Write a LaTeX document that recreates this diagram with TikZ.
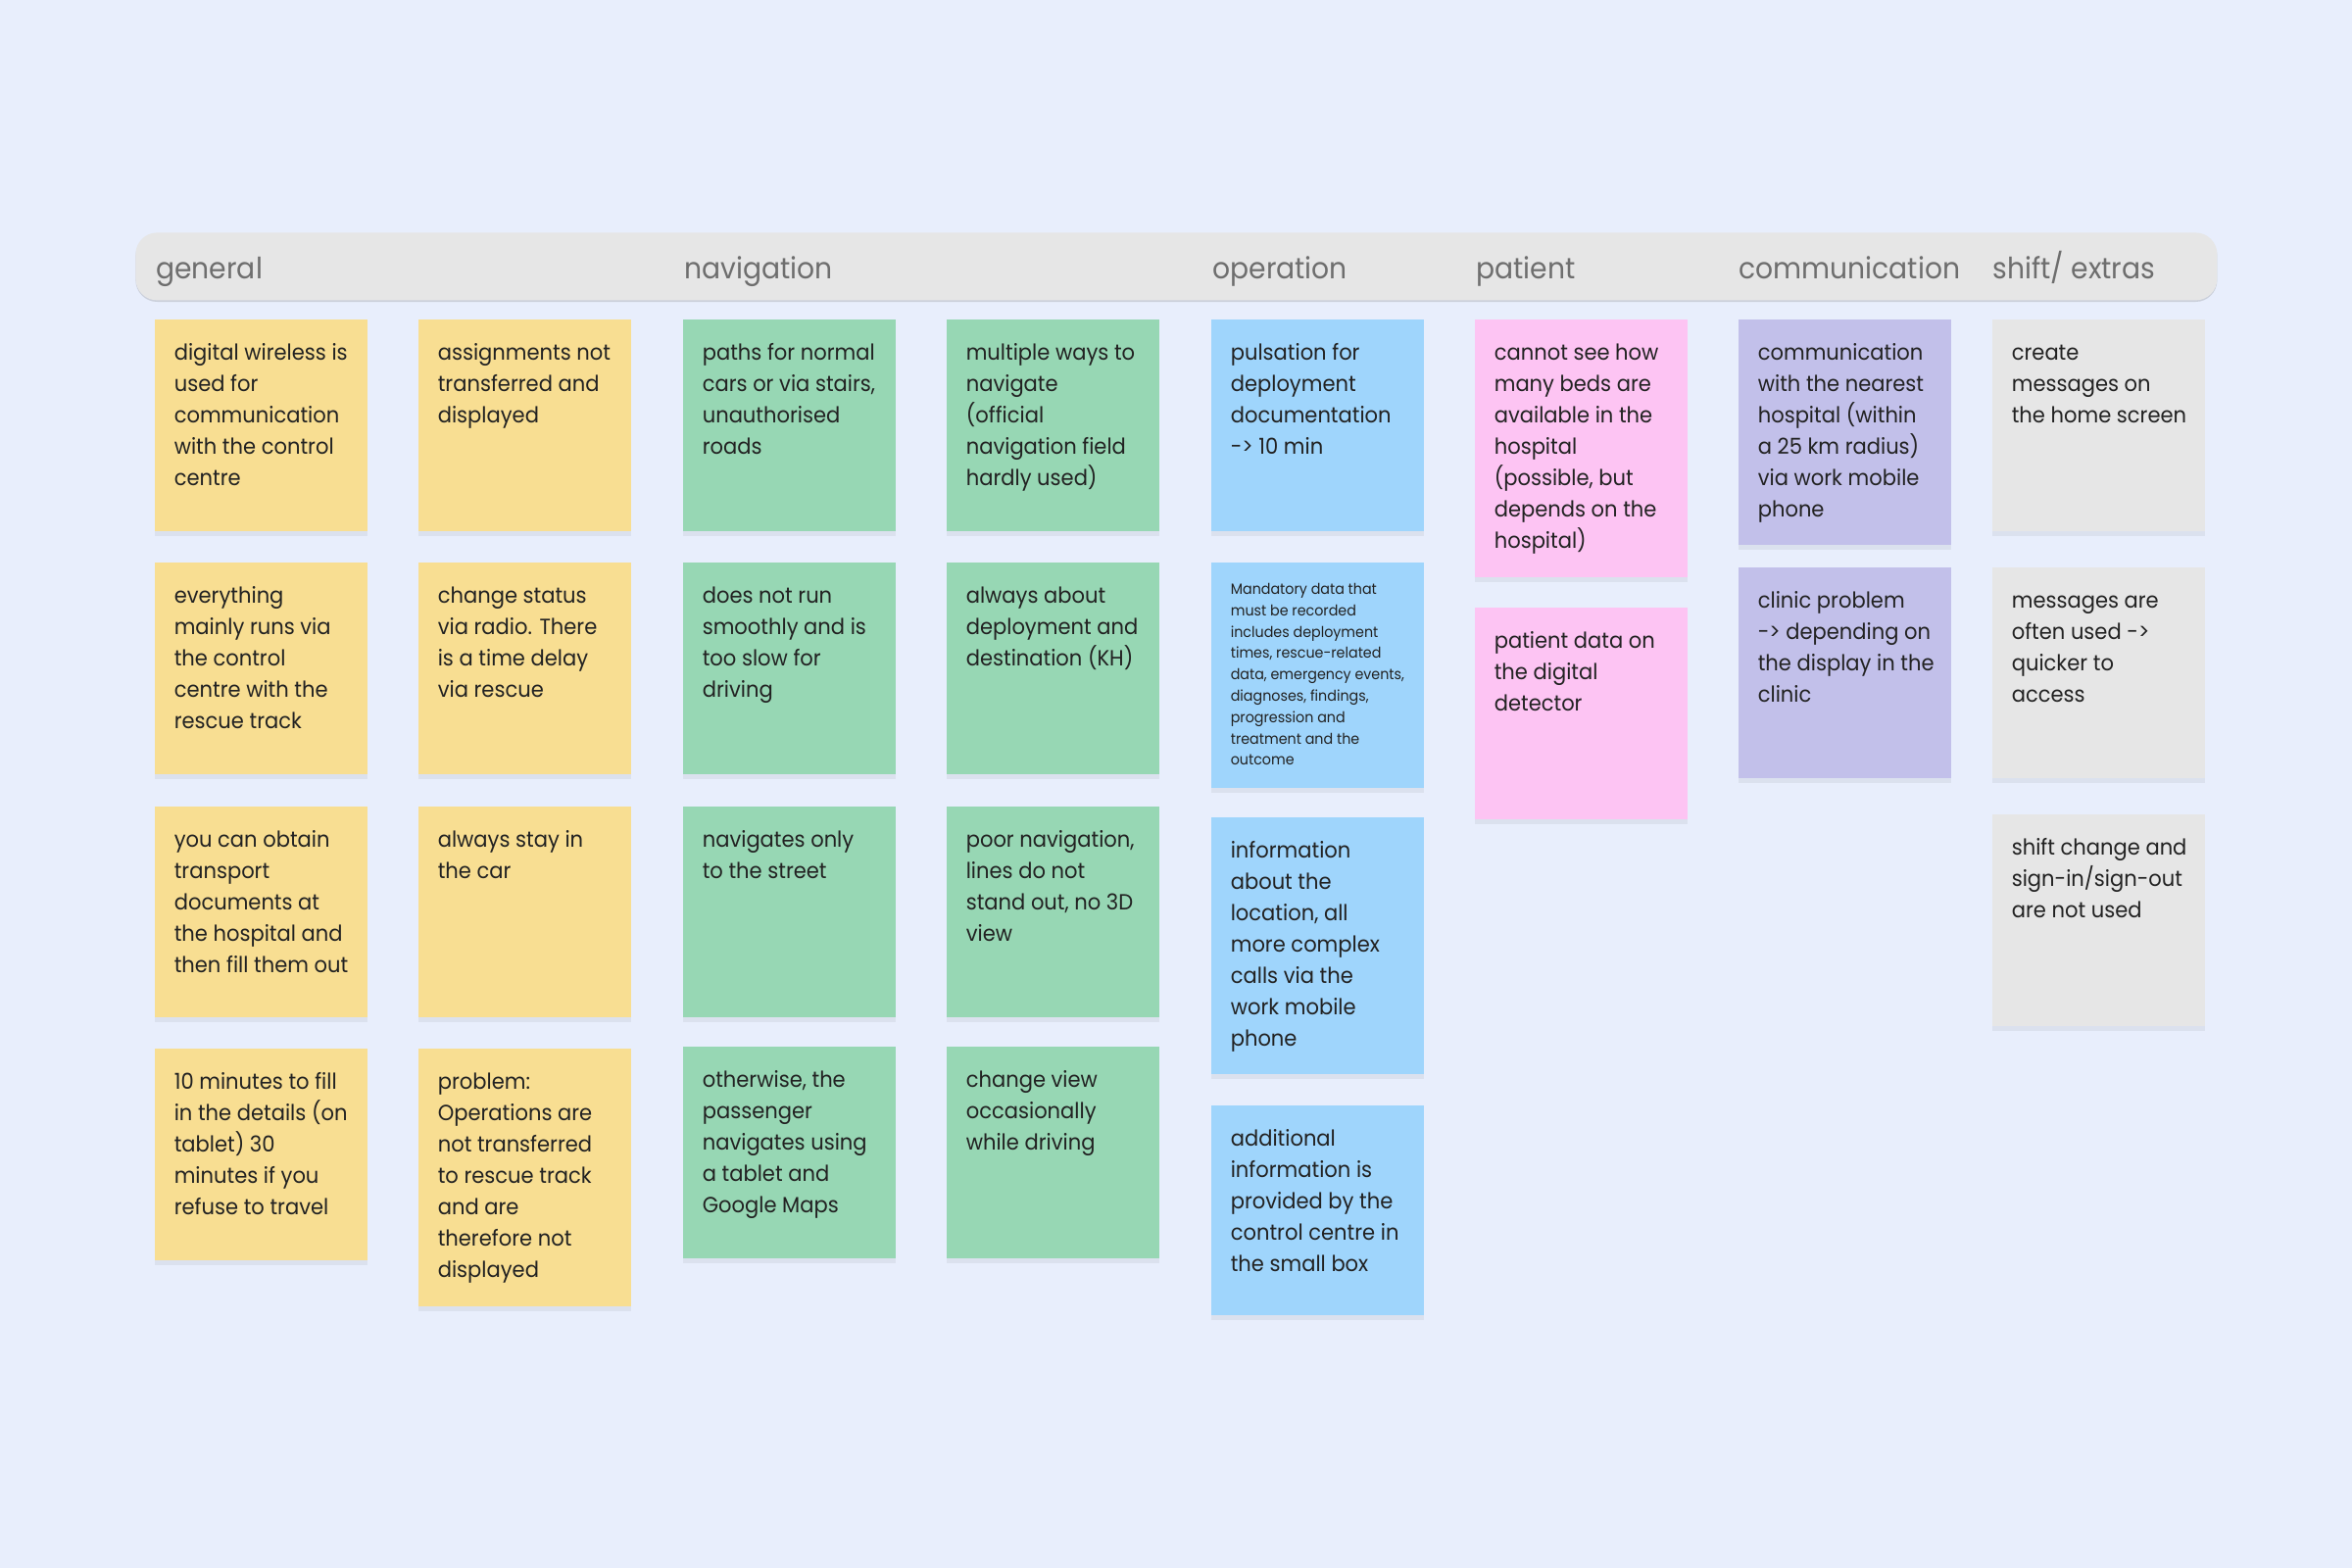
\documentclass[tikz,border=0pt]{standalone}
\usepackage{fontspec}
\setmainfont{Poppins}[FakeStretch=0.94]
\usetikzlibrary{shadows}
\definecolor{bgc}{HTML}{E8EEFC}
\definecolor{barc}{HTML}{E6E6E6}
\definecolor{headtxt}{HTML}{6E6E6E}
\definecolor{txtc}{HTML}{222222}
\definecolor{cyel}{HTML}{F8DE92}
\definecolor{cgrn}{HTML}{97D7B4}
\definecolor{cblu}{HTML}{9FD5FC}
\definecolor{cpnk}{HTML}{FDC4F3}
\definecolor{cpur}{HTML}{C2C0EA}
\definecolor{cgry}{HTML}{E6E6E6}
\newcommand\cardfont{\fontsize{11.2}{16}\selectfont}
\newcommand\smallcardfont{\fontsize{7.6}{10.9}\selectfont}
\newcommand\mkcard[6]{%
  \node[cardbox, fill=#5, minimum height=#4*0.5pt, anchor=north west] (#1) at (#2,#3) {};
  \node[cardtext, anchor=north west] (#1t) at ([xshift=9.7pt, yshift=-9.5pt]#1.north west) {\strut #6};}
\begin{document}
\begin{tikzpicture}[x=0.5pt, y=-0.5pt,
  cardbox/.style={rectangle, inner sep=0pt, outer sep=0pt, minimum width=108.5pt,
    drop shadow={opacity=0.08, shadow xshift=0pt, shadow yshift=-2.5pt, fill=black!70}},
  cardtext/.style={inner sep=0pt, align=left, font=\cardfont, text=txtc},
  headtext/.style={inner sep=0pt, anchor=base west, font=\fontsize{15}{18}\selectfont, text=headtxt}]
\useasboundingbox[fill=bgc] (0,0) rectangle (2400,1600);
% header bar
\node[rectangle, rounded corners=11pt, fill=barc, inner sep=0pt, anchor=north west,
  minimum width=1062pt, minimum height=34.5pt,
  drop shadow={opacity=0.22, shadow xshift=0pt, shadow yshift=-0.8pt, fill=black!60}] (bar) at (138,237) {};
\node[headtext] (hgen) at (159,284) {general};
\node[headtext] (hnav) at (698,284) {navigation};
\node[headtext] (hop) at (1237,284) {operation};
\node[headtext] (hpat) at (1506,284) {patient};
\node[headtext] (hcom) at (1774,284) {communication};
\node[headtext] (hsh) at (2033,284) {shift/ extras};
% column 0
\mkcard{a1}{158}{326}{216}{cyel}{digital wireless is\\used for\\communication\\with the control\\centre}
\mkcard{a2}{158}{574}{216}{cyel}{everything\\mainly runs via\\the control\\centre with the\\rescue track}
\mkcard{a3}{158}{823}{215}{cyel}{you can obtain\\transport\\documents at\\the hospital and\\then fill them out}
\mkcard{a4}{158}{1070}{216}{cyel}{10 minutes to fill\\in the details (on\\tablet) 30\\minutes if you\\refuse to travel}
% column 1
\mkcard{b1}{427}{326}{216}{cyel}{assignments not\\transferred and\\displayed}
\mkcard{b2}{427}{574}{216}{cyel}{change status\\via radio. There\\is a time delay\\via rescue}
\mkcard{b3}{427}{823}{215}{cyel}{always stay in\\the car}
\mkcard{b4}{427}{1070}{263}{cyel}{problem:\\Operations are\\not transferred\\to rescue track\\and are\\therefore not\\displayed}
% column 2
\mkcard{c1}{697}{326}{216}{cgrn}{paths for normal\\cars or via stairs,\\unauthorised\\roads}
\mkcard{c2}{697}{574}{216}{cgrn}{does not run\\smoothly and is\\too slow for\\driving}
\mkcard{c3}{697}{823}{215}{cgrn}{navigates only\\to the street}
\mkcard{c4}{697}{1068}{216}{cgrn}{otherwise, the\\passenger\\navigates using\\a tablet and\\Google Maps}
% column 3
\mkcard{d1}{966}{326}{216}{cgrn}{multiple ways to\\navigate\\(official\\navigation field\\hardly used)}
\mkcard{d2}{966}{574}{216}{cgrn}{always about\\deployment and\\destination (KH)}
\mkcard{d3}{966}{823}{215}{cgrn}{poor navigation,\\lines do not\\stand out, no 3D\\view}
\mkcard{d4}{966}{1068}{216}{cgrn}{change view\\occasionally\\while driving}
% column 4
\mkcard{e1}{1236}{326}{216}{cblu}{pulsation for\\deployment\\documentation\\-> 10 min}
\node[cardbox, fill=cblu, minimum height=230*0.5pt, anchor=north west] (e2) at (1236,574) {};
\node[cardtext, font=\smallcardfont, anchor=north west] (e2t) at ([xshift=9.7pt, yshift=-8.4pt]e2.north west) {\strut Mandatory data that\\must be recorded\\includes deployment\\times, rescue-related\\data, emergency events,\\diagnoses, findings,\\progression and\\treatment and the\\outcome};
\mkcard{e3}{1236}{834}{262}{cblu}{information\\about the\\location, all\\more complex\\calls via the\\work mobile\\phone}
\mkcard{e4}{1236}{1128}{214}{cblu}{additional\\information is\\provided by the\\control centre in\\the small box}
% column 5
\mkcard{f1}{1505}{326}{263}{cpnk}{cannot see how\\many beds are\\available in the\\hospital\\(possible, but\\depends on the\\hospital)}
\mkcard{f2}{1505}{620}{216}{cpnk}{patient data on\\the digital\\detector}
% column 6
\mkcard{g1}{1774}{326}{230}{cpur}{communication\\with the nearest\\hospital (within\\a 25 km radius)\\via work mobile\\phone}
\mkcard{g2}{1774}{579}{215}{cpur}{clinic problem\\-> depending on\\the display in the\\clinic}
% column 7
\mkcard{h1}{2033}{326}{216}{cgry}{create\\messages on\\the home screen}
\mkcard{h2}{2033}{579}{215}{cgry}{messages are\\often used ->\\quicker to\\access}
\mkcard{h3}{2033}{831}{216}{cgry}{shift change and\\sign-in/sign-out\\are not used}
\end{tikzpicture}
\end{document}
